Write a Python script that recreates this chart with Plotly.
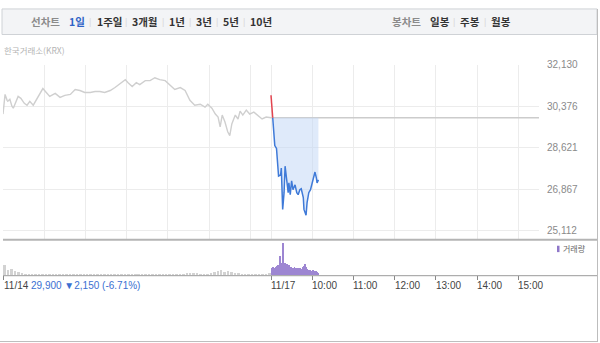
import plotly.graph_objects as go

# ---------------- data ----------------
# minutes since 09:00; 11/14 session = 0..390, 11/17 session = 390..780
prev_t = [0, 3, 6, 7, 10, 13, 15, 18, 22, 26, 31, 35, 39, 44, 48, 54, 58, 63, 68, 76, 83, 90, 98,
          105, 112, 119, 127, 134, 141, 148, 156, 163, 170, 178, 182, 188, 194, 199, 207, 214, 221,
          228, 236, 243, 250, 258, 265, 272, 279, 287, 294, 298, 304, 309, 313, 316, 319, 323, 327,
          330, 333, 338, 342, 345, 349, 354, 359, 365, 371, 377, 383, 390]
prev_p = [30054, 30884, 30635, 30594, 30677, 30386, 30303, 30552, 30801, 30718, 30510, 30428, 30594,
          30428, 30635, 30967, 31133, 30967, 30801, 30926, 30760, 30843, 30884, 31092, 31050, 30967,
          30967, 31009, 31009, 30967, 31050, 31175, 31341, 31507, 31382, 31216, 31382, 31299, 31466,
          31466, 31590, 31507, 31466, 31299, 31092, 31175, 31050, 30635, 30428, 30469, 30344, 30469,
          30303, 30054, 29929, 29513, 30012, 29721, 29306, 29140, 29638, 30012, 29846, 30178, 30012,
          30220, 30054, 30137, 29970, 29846, 29929, 29900]

prev_close = 29900
up_t = [390, 391, 392.5]
up_p = [30850, 30500, 29900]
down_t = [392.5, 395.5, 398, 400, 401, 404, 405, 407, 409, 410.5, 412.5, 415, 416, 418, 420, 422,
          425, 427.5, 429.5, 432, 434, 437, 438, 441, 442.5, 445, 447.5, 450, 452, 454, 456, 457, 459]
down_p = [29900, 28725, 28600, 27977, 27437, 27479, 27770, 26025, 26731, 27852, 27271, 26731, 27146,
          26648, 27229, 26856, 27063, 26731, 26648, 26856, 26897, 26524, 26025, 25776, 26316, 26731,
          26856, 27146, 27354, 27603, 27354, 27146, 27271]

# volume (thousand shares): 11/14 in 5-minute bins, 11/17 per minute
vol_prev = [10, 5, 6, 4, 3, 2, 1.5, 1.5, 1.2, 1, 1, 1.2, 1, 1, 1, 1.2, 1, 1, 1, 1,
            1, 1, 1, 1, 1, 1.2, 1, 1, 1, 1, 1, 1, 1, 1, 1, 1.2, 1, 1, 1, 1,
            1, 1, 1, 1, 1, 1, 1, 1.5, 1.5, 1, 1, 1.2, 1.5, 2, 2.5, 2, 2, 1.5, 1.5, 1.5,
            2, 3, 4, 5, 3.5, 4, 3, 2.5, 2, 1.5, 1.5, 1.2, 1.2, 1, 1.2, 1.5, 1.5, 2]
vol_today = [7, 5, 8, 6, 5, 7, 6, 8, 9, 7, 10, 8, 11, 18, 9, 12, 10, 31, 14, 9, 12, 10, 8, 11, 9,
             8, 10, 7, 6, 8, 7, 6, 7, 5, 8, 6, 7, 5, 6, 7, 5, 6, 7, 5, 6, 6, 8, 9, 10, 11, 9, 8,
             6, 5, 4, 5, 4, 5, 4, 3, 4, 5, 4, 3, 4, 3, 4, 3, 2]

y_ticks = [25112, 26867, 28621, 30376, 32130]
x_grid = [60, 120, 180, 240, 300, 360, 390, 450, 510, 570, 630, 690, 750]
x_ticks = [0, 390, 450, 510, 570, 630, 690, 750]
x_tick_labels = ["11/14", "11/17", "10:00", "11:00", "12:00", "13:00", "14:00", "15:00"]
period_tabs = ["1일", "1주일", "3개월", "1년", "3년", "5년", "10년"]
candle_tabs = ["일봉", "주봉", "월봉"]
summary_text = "29,900 ▼2,150 (-6.71%)"

# ---------------- figure ----------------
W, H = 600, 343
def px(x):
    return x / W
def py(y):
    return 1 - y / H

fig = go.Figure()

# price: previous day
fig.add_trace(go.Scatter(x=prev_t, y=prev_p, mode="lines", line=dict(color="#cfcfcf", width=1.4),
                         xaxis="x", yaxis="y", hoverinfo="skip"))
# previous close reference line
fig.add_trace(go.Scatter(x=[390, 780], y=[prev_close, prev_close], mode="lines",
                         line=dict(color="#cccccc", width=1.4), xaxis="x", yaxis="y", hoverinfo="skip"))
# fill base for down segment
fig.add_trace(go.Scatter(x=down_t, y=[prev_close] * len(down_t), mode="lines",
                         line=dict(color="rgba(0,0,0,0)", width=0), xaxis="x", yaxis="y", hoverinfo="skip"))
fig.add_trace(go.Scatter(x=down_t, y=down_p, mode="lines", line=dict(color="#3f7ad8", width=1.5),
                         fill="tonexty", fillcolor="rgba(196,216,245,0.55)", xaxis="x", yaxis="y",
                         hoverinfo="skip"))
fig.add_trace(go.Scatter(x=up_t, y=up_p, mode="lines", line=dict(color="#e2444f", width=1.5),
                         xaxis="x", yaxis="y", hoverinfo="skip"))

# volume
fig.add_trace(go.Bar(x=[2.5 + 5 * i for i in range(len(vol_prev))], y=vol_prev, width=3.6,
                     marker=dict(color="#d2d2d2", line=dict(width=0)), xaxis="x2", yaxis="y2",
                     hoverinfo="skip"))
fig.add_trace(go.Bar(x=[390.5 + i for i in range(len(vol_today))], y=vol_today, width=0.85,
                     marker=dict(color="#9d86d2", line=dict(width=0)), xaxis="x2", yaxis="y2",
                     hoverinfo="skip"))

xdom = [px(3), px(539)]
fig.update_layout(
    width=W, height=H, margin=dict(l=0, r=0, t=0, b=0),
    paper_bgcolor="white", plot_bgcolor="white", showlegend=False, bargap=0,
    font=dict(family="Liberation Sans, Arial, sans-serif"),
    xaxis=dict(domain=xdom, range=[0, 780], tickvals=x_grid, showticklabels=False,
               showgrid=True, gridcolor="#ececec", gridwidth=1, zeroline=False, showline=False,
               ticks="", fixedrange=True),
    yaxis=dict(domain=[py(238), py(60)], range=[24738, 32130], side="right", tickvals=y_ticks,
               tickformat=",", showgrid=True, gridcolor="#ececec", gridwidth=1, zeroline=False,
               showline=False, ticks="", ticklabelstandoff=7,
               tickfont=dict(size=10, color="#8a8a8a", family="Liberation Sans, Arial")),
    xaxis2=dict(domain=xdom, range=[0, 780], anchor="y2", tickvals=x_ticks, showticklabels=False,
                ticks="outside", ticklen=4, tickwidth=1, tickcolor="#888888", showgrid=False,
                zeroline=False, showline=False),
    yaxis2=dict(domain=[py(274), py(238)], range=[0, 33.5], visible=False, anchor="x2"),
)

shapes = []
# tab bar
shapes.append(dict(type="rect", xref="paper", yref="paper", x0=px(2), x1=px(597), y0=py(29), y1=py(3),
                   fillcolor="#f3f4f6", line=dict(color="#cfd2d6", width=1), layer="below"))
# price panel bottom border
shapes.append(dict(type="line", xref="paper", yref="paper", x0=px(3), x1=px(597), y0=py(238), y1=py(238),
                   line=dict(color="#b4b4b4", width=2)))
# volume baseline
shapes.append(dict(type="line", xref="paper", yref="paper", x0=px(3), x1=px(597), y0=py(274.5), y1=py(274.5),
                   line=dict(color="#9a9a9a", width=1)))
# outer border right / bottom
shapes.append(dict(type="line", xref="paper", yref="paper", x0=px(597.5), x1=px(597.5), y0=py(342), y1=py(3),
                   line=dict(color="#bdbdbd", width=1)))
shapes.append(dict(type="line", xref="paper", yref="paper", x0=px(0), x1=px(597.5), y0=py(341.5), y1=py(341.5),
                   line=dict(color="#bdbdbd", width=1)))
# legend marker
shapes.append(dict(type="rect", xref="paper", yref="paper", x0=px(557), x1=px(559.5), y0=py(250.5), y1=py(244),
                   fillcolor="#8f77c9", line=dict(width=0)))
fig.update_layout(shapes=shapes)

ann = []
KR = "Noto Sans CJK KR, sans-serif"
def text(x, y, s, size, color, family=KR, bold=False, xref="paper"):
    ann.append(dict(x=px(x) if xref == "paper" else x, y=py(y), xref=xref, yref="paper",
                    text=("<b>%s</b>" % s) if bold else s, showarrow=False, xanchor="left",
                    yanchor="middle", font=dict(size=size, color=color, family=family)))

# tabs
text(29, 16, "선차트", 10.5, "#8b8b8b", bold=True)
tab_x = [67, 95, 130, 167, 194, 221, 248]
sep_x = [88, 124, 161, 188, 215, 242]
for i, (lbl, x) in enumerate(zip(period_tabs, tab_x)):
    text(x, 16, lbl, 10.5, "#2f63c6" if i == 0 else "#333333", bold=True)
for x in sep_x:
    text(x - 1.5, 16, "|", 9, "#d8d8d8", family="Liberation Sans")
text(390, 16, "봉차트", 10.5, "#8b8b8b", bold=True)
for lbl, x in zip(candle_tabs, [428, 458, 489]):
    text(x, 16, lbl, 10.5, "#333333", bold=True)
for x in [452, 483]:
    text(x - 1.5, 16, "|", 9, "#d8d8d8", family="Liberation Sans")

text(2, 45, "한국거래소(KRX)", 8.5, "#b4b4b4")
text(561, 247, "거래량", 8, "#666666")

# bottom axis labels
NUM = "Liberation Sans, Arial"
text(2, 284, x_tick_labels[0], 10, "#444444", family=NUM)
text(29, 284, summary_text, 10, "#3b6fd1", family=NUM)
for v, lbl in zip(x_ticks[1:], x_tick_labels[1:]):
    ann.append(dict(x=v, y=py(284), xref="x2", yref="paper", text=lbl, showarrow=False,
                    xanchor="left", yanchor="middle", xshift=-2,
                    font=dict(size=10, color="#444444", family=NUM)))
fig.update_layout(annotations=ann)

fig.write_html("out.html")
